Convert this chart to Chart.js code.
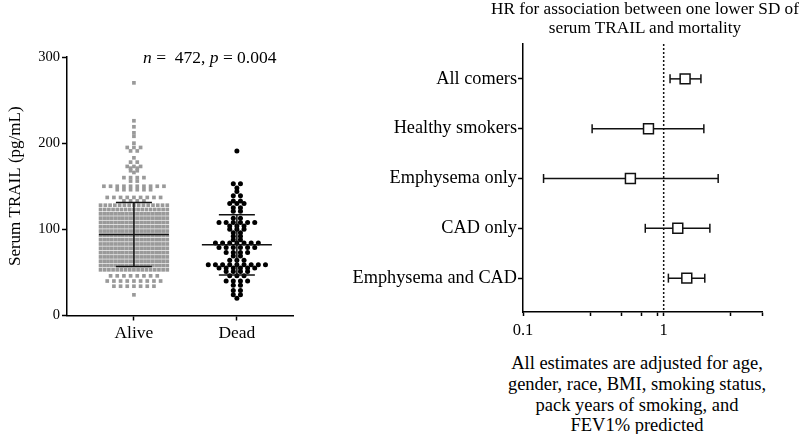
<!DOCTYPE html>
<html>
<head>
<meta charset="utf-8">
<script src="https://cdn.jsdelivr.net/npm/chart.js@4"></script>
<style>
    body { margin: 0; background: #fff; }
    .wrap { position: relative; width: 800px; height: 434px; font-family: "Liberation Serif", "Times New Roman", serif; color: #000; }
    canvas { position: absolute; top: 0; }
    .txt { position: absolute; white-space: nowrap; text-align: center; }
</style>
</head>
<body>
<div class="wrap">
    <canvas id="dots" width="330" height="352" style="left:0"></canvas>
    <canvas id="forest" width="470" height="340" style="left:330px"></canvas>
    <div class="txt" style="left:143px; top:49px; font-size:17.5px; line-height:17px;"><i>n</i> =&nbsp; 472, <i>p</i> = 0.004</div>
    <div class="txt" style="left:485px; width:320px; top:0; font-size:17.2px; line-height:18.5px;">HR for association between one lower SD of<br>serum TRAIL and mortality</div>
    <div class="txt" style="left:487px; width:300px; top:353px; font-size:18.5px; line-height:20.8px;">All estimates are adjusted for age,<br>gender, race, BMI, smoking status,<br>pack years of smoking, and<br>FEV1% predicted</div>
</div>
<script>
// left panel: serum TRAIL by vital status
const groups = ["Alive", "Dead"];
// [value, number of dots in that row]
const aliveRows = [
    [270, 1], [226, 1], [219, 1], [212, 1], [208, 1], [200, 1], [195, 3], [191, 2],
    [183, 1], [178, 2], [173, 3], [171, 2], [168, 2], [166, 1], [160, 4], [156, 2],
    [150, 10], [146, 6], [137, 9], [133, 4],
    [128, 15], [123, 17], [118, 19], [113, 19], [108, 19], [103, 19], [98, 19], [93, 19],
    [88, 19], [83, 19], [78, 19], [73, 19], [68, 19], [63, 19], [58, 19], [53, 17],
    [46, 8], [40, 9], [34, 7], [24, 1]
];
const deadRows = [
    [191, 1], [153, 2], [148, 1], [144, 1], [139, 2], [133, 2], [130, 3], [125, 2],
    [121, 2], [113, 2], [108, 6], [104, 3], [100, 3], [96, 2], [92, 2], [88, 2],
    [84, 7], [79, 6], [73, 4], [69, 2], [64, 3], [59, 9], [55, 6], [51, 4],
    [46, 3], [40, 4], [35, 2], [29, 2], [24, 2], [20, 1]
];
const groupMean = [94, 82];
const groupSD = [37, 35];
const yTicksLeft = [0, 100, 200, 300];

// right panel: hazard ratios
const subgroups = ["All comers", "Healthy smokers", "Emphysema only", "CAD only", "Emphysema and CAD"];
const hr = [1.42, 0.78, 0.58, 1.26, 1.46];
const ciLow = [1.11, 0.31, 0.14, 0.74, 1.08];
const ciHigh = [1.84, 1.93, 2.44, 2.13, 1.96];
const hrTicks = [0.1, 0.3, 0.5, 0.7, 0.9, 1, 3, 5];
const hrLabels = { 0.1: "0.1", 1: "1" };

Chart.defaults.font.family = "'Liberation Serif', 'Times New Roman', serif";
Chart.defaults.color = "#000";
Chart.defaults.animation = false;

const PX_PER_UNIT = 108;

function swarm(rows, g, maxGap, maxWidth) {
    const pts = [];
    rows.forEach(([v, n]) => {
        const gap = n > 1 ? Math.min(maxGap, maxWidth / (n - 1)) : 0;
        for (let k = 0; k < n; k++) {
            pts.push({ x: g + (k - (n - 1) / 2) * gap / PX_PER_UNIT, y: v });
        }
    });
    return pts;
}

const barSets = [];
groups.forEach((name, i) => {
    const g = i + 1, m = groupMean[i], sd = groupSD[i];
    barSets.push({
        data: [{ x: g, y: m }, { x: g, y: m + sd }, { x: g, y: m - sd }],
        pointStyle: "line",
        pointRadius: [35, 18, 18],
        pointBorderColor: "#111",
        pointBorderWidth: 1.5
    });
    barSets.push({
        data: [{ x: g, y: m - sd }, { x: g, y: m + sd }],
        showLine: true,
        borderColor: "#111",
        borderWidth: 1.5,
        pointRadius: 0
    });
});

new Chart(document.getElementById("dots"), {
    type: "scatter",
    data: {
        datasets: [
            ...barSets,
            {
                data: swarm(deadRows, 2, 7.5, 62),
                pointStyle: "circle",
                pointRadius: 2.5,
                backgroundColor: "#000",
                borderColor: "#000",
                borderWidth: 0
            },
            {
                data: swarm(aliveRows, 1, 7, 70),
                pointStyle: "rect",
                pointRadius: 2.6,
                backgroundColor: "#9a9a9a",
                borderColor: "#9a9a9a",
                borderWidth: 0
            }
        ]
    },
    options: {
        responsive: false,
        layout: { padding: { top: 57, right: 25 } },
        plugins: { legend: { display: false }, tooltip: { enabled: false } },
        elements: { point: { hoverRadius: 0 } },
        clip: false,
        scales: {
            x: {
                type: "linear",
                min: 0.35,
                max: 2.55,
                afterBuildTicks: s => { s.ticks = groups.map((_, i) => ({ value: i + 1 })); },
                afterFit: s => { s.height = 31; },
                ticks: { font: { size: 17.5 }, padding: 2, callback: v => groups[v - 1] },
                grid: { drawOnChartArea: false, tickLength: 5, tickColor: "#000", tickWidth: 1.5 },
                border: { color: "#000", width: 1.5 }
            },
            y: {
                min: 0,
                max: 300,
                afterBuildTicks: s => { s.ticks = yTicksLeft.map(v => ({ value: v })); },
                afterFit: s => { s.width = 67; },
                ticks: { font: { size: 14.5 }, padding: 2 },
                title: { display: true, text: "Serum TRAIL (pg/mL)", font: { size: 17 }, padding: { top: 5, bottom: 0 } },
                grid: { drawOnChartArea: false, tickLength: 5, tickColor: "#000", tickWidth: 1.5 },
                border: { color: "#000", width: 1.5 }
            }
        }
    }
});

// forest plot
const yMin = -0.7, yMax = 4.68;
const ciSets = subgroups.map((_, i) => ({
    data: [{ x: ciLow[i], y: i }, { x: ciHigh[i], y: i }],
    showLine: true,
    borderColor: "#111",
    borderWidth: 1.5,
    pointStyle: "line",
    pointRotation: 90,
    pointRadius: 4.5,
    pointBorderColor: "#111",
    pointBorderWidth: 1.5
}));

new Chart(document.getElementById("forest"), {
    type: "scatter",
    data: {
        datasets: [
            {
                data: hr.map((v, i) => ({ x: v, y: i })),
                pointStyle: "rect",
                pointRadius: 7,
                backgroundColor: "#fff",
                borderColor: "#111",
                borderWidth: 1.5
            },
            ...ciSets,
            {
                data: [{ x: 1, y: yMin }, { x: 1, y: yMax }],
                showLine: true,
                borderColor: "#111",
                borderWidth: 1.5,
                borderDash: [2, 2],
                pointRadius: 0
            }
        ]
    },
    options: {
        responsive: false,
        layout: { padding: { top: 44, right: 38 } },
        plugins: { legend: { display: false }, tooltip: { enabled: false } },
        elements: { point: { hoverRadius: 0 } },
        clip: false,
        scales: {
            x: {
                type: "logarithmic",
                min: 0.1,
                max: 5,
                afterBuildTicks: s => { s.ticks = hrTicks.map(v => ({ value: v })); },
                afterFit: s => { s.height = 28; },
                ticks: { font: { size: 16.5 }, padding: 5, autoSkip: false, maxRotation: 0, callback: v => hrLabels[v] || "" },
                grid: { drawOnChartArea: false, tickLength: 4, tickColor: "#000", tickWidth: 1.5 },
                border: { color: "#000", width: 1.5 }
            },
            y: {
                type: "linear",
                min: yMin,
                max: yMax,
                reverse: true,
                afterBuildTicks: s => { s.ticks = subgroups.map((_, i) => ({ value: i })); },
                afterFit: s => { s.width = 193; },
                ticks: { font: { size: 18.3 }, padding: 1, callback: v => subgroups[v] },
                grid: { drawOnChartArea: false, tickLength: 5, tickColor: "#000", tickWidth: 1.5 },
                border: { color: "#000", width: 1.5 }
            }
        }
    }
});
</script>
</body>
</html>
